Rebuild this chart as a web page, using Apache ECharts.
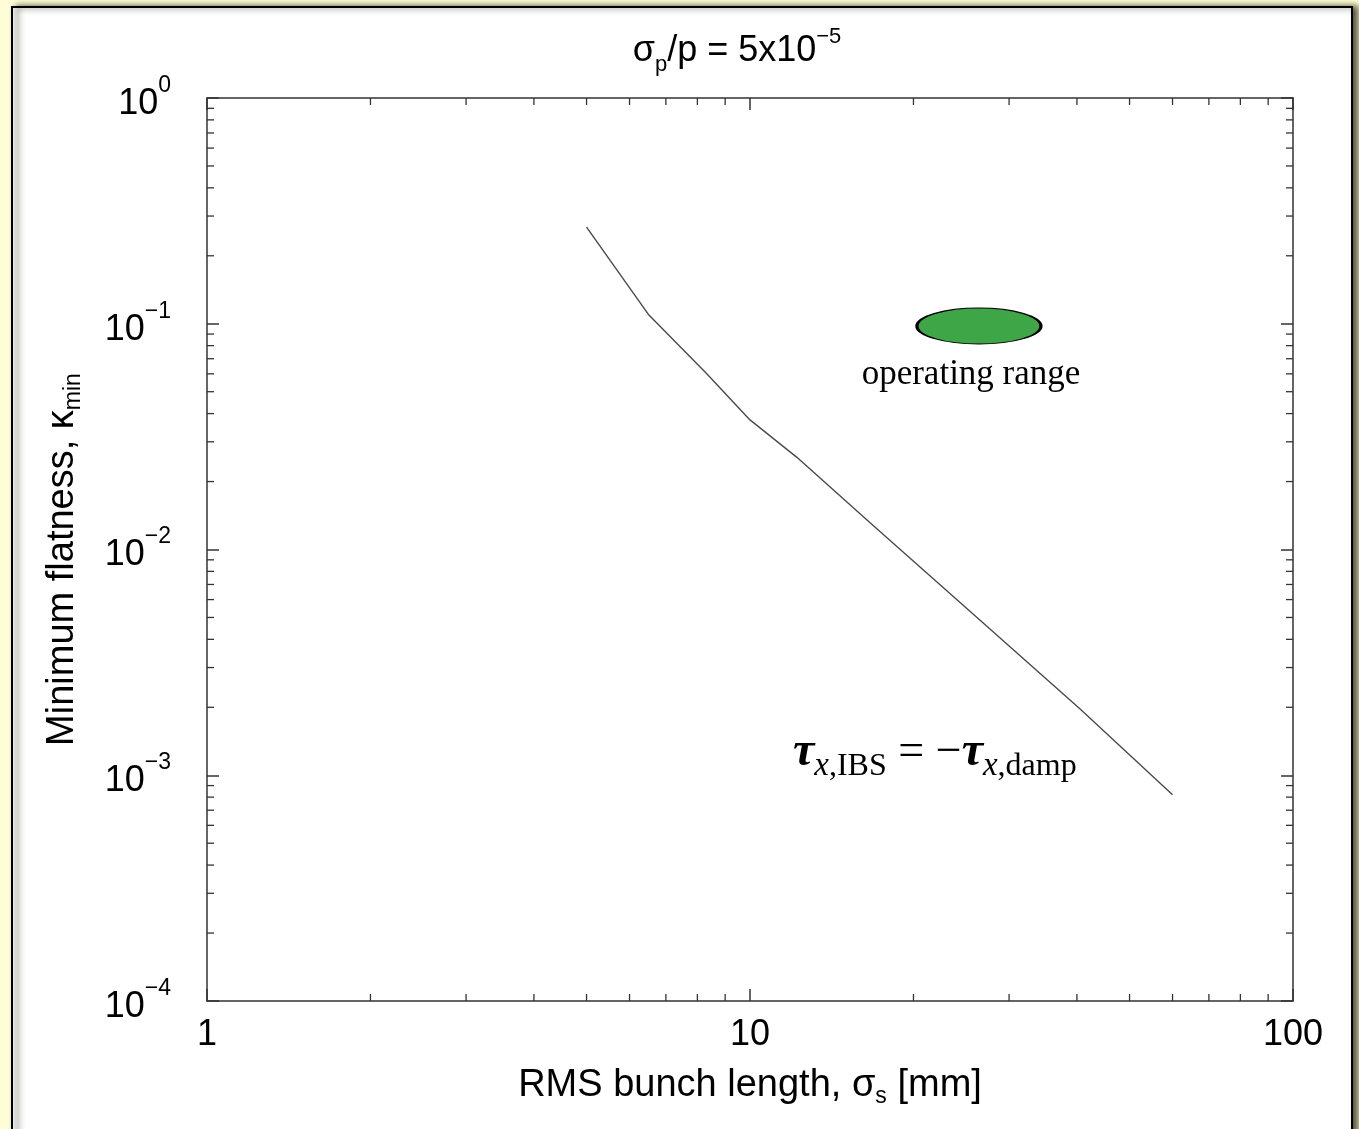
<!DOCTYPE html>
<html>
<head>
<meta charset="utf-8">
<script src="https://cdn.jsdelivr.net/npm/echarts@6/dist/echarts.min.js"></script>
<style>
html,body{margin:0;padding:0;background:#FFFDD6;}
#chart{width:1359px;height:1129px;}
</style>
</head>
<body>
<div id="chart"></div>
<script>
// ---- data ----
const bunchLength = [5.0, 6.5, 8.3, 10, 12.2, 16.6, 26.5, 40.5, 60];          // sigma_s [mm]
const kappaMin    = [0.268, 0.11, 0.0605, 0.0375, 0.0256, 0.0132, 0.00487, 0.00197, 0.00082];
const operatingRange = [[26.4, 0.0977]];
const xMinorTicks = [2,3,4,5,6,7,8,9,20,30,40,50,60,70,80,90];
const yMinorTicks = [];
[1e-4,1e-3,1e-2,1e-1].forEach(d => { for (let k = 2; k <= 9; k++) yMinorTicks.push(+(d*k).toPrecision(3)); });
const xRange = [1, 100];
const yRange = [1e-4, 1];

const AX = '#333';
const sans = '"Liberation Sans", Arial, Helvetica, sans-serif';
const serif = '"Liberation Serif", "Times New Roman", serif';

function supLabel(v) {
  const e = Math.round(Math.log10(v));
  return '{b|10}{s|' + (e === 0 ? '0' : '\u2212' + (-e)) + '}';
}

const chart = echarts.init(document.getElementById('chart'), null, {renderer: 'canvas'});

const commonAxis = {
  type: 'log', logBase: 10,
  axisLine: {show: true, lineStyle: {color: AX, width: 1.5}},
  axisTick: {show: true, inside: true, length: 12, lineStyle: {color: AX, width: 1.5}},
  splitLine: {show: false},
  minorTick: {show: false},
  minorSplitLine: {show: false}
};

chart.setOption({
  backgroundColor: '#FFFDD6',
  animation: false,
  graphic: [
    {type: 'rect', z: -10, shape: {x: 12, y: 7, width: 1340, height: 1140},
     style: {fill: '#fff', stroke: '#000', lineWidth: 2, shadowBlur: 6, shadowOffsetX: 5, shadowOffsetY: 0, shadowColor: 'rgba(50,50,30,0.85)'}},
    {type: 'text', x: 737, y: 51, z: 10,
     style: {text: '{a|\u03c3}{sub|p}{a|/p = 5x10}{sup|\u22125}', align: 'center', verticalAlign: 'middle',
       rich: {
         a: {fontFamily: sans, fontSize: 36, lineHeight: 50, verticalAlign: 'middle', fill: '#000'},
         sub: {fontFamily: sans, fontSize: 22, lineHeight: 22, verticalAlign: 'bottom', fill: '#000'},
         sup: {fontFamily: sans, fontSize: 22, lineHeight: 22, verticalAlign: 'top', fill: '#000'}
       }}},
    {type: 'text', x: 793, y: 753, z: 10,
     style: {text: '{t|\u03c4}{i|x}{r|,IBS}{o| = \u2212}{t|\u03c4}{i|x}{r|,damp}', align: 'left', verticalAlign: 'middle',
       rich: {
         t: {fontFamily: serif, fontSize: 48, fontWeight: 'bold', fontStyle: 'italic', lineHeight: 60, verticalAlign: 'middle', fill: '#000'},
         o: {fontFamily: serif, fontSize: 46, lineHeight: 60, verticalAlign: 'middle', fill: '#000'},
         i: {fontFamily: serif, fontSize: 33, fontStyle: 'italic', lineHeight: 33, verticalAlign: 'bottom', fill: '#000'},
         r: {fontFamily: serif, fontSize: 32, lineHeight: 33, verticalAlign: 'bottom', fill: '#000'}
       }}},
    {type: 'text', x: 971, y: 375, z: 10,
     style: {text: 'operating range', fontFamily: serif, fontSize: 35, fill: '#000', align: 'center', verticalAlign: 'middle'}}
  ],
  grid: {left: 207, right: 66, top: 98, bottom: 128, containLabel: false},
  xAxis: [
    Object.assign({}, commonAxis, {
      position: 'bottom', min: xRange[0], max: xRange[1],
      name: '{a|RMS bunch length, \u03c3}{s|s}{a| [mm]}', nameLocation: 'middle', nameGap: 63,
      nameTextStyle: {rich: {
        a: {fontFamily: sans, fontSize: 38, lineHeight: 44, verticalAlign: 'middle', color: '#000'},
        s: {fontFamily: sans, fontSize: 23, lineHeight: 23, verticalAlign: 'bottom', color: '#000'}}},
      axisLabel: {show: true, margin: 16, fontFamily: sans, fontSize: 36, color: '#000'}
    }),
    Object.assign({}, commonAxis, {
      position: 'top', min: xRange[0], max: xRange[1], axisLabel: {show: false}
    })
  ],
  yAxis: [
    Object.assign({}, commonAxis, {
      position: 'left', min: yRange[0], max: yRange[1],
      name: '{a|Minimum flatness, \u03ba}{s|min}', nameLocation: 'middle', nameGap: 122, nameRotate: 90,
      nameTextStyle: {padding: [0, 20, 0, 0], rich: {
        a: {fontFamily: sans, fontSize: 38, lineHeight: 44, verticalAlign: 'middle', color: '#000'},
        s: {fontFamily: sans, fontSize: 23, lineHeight: 23, verticalAlign: 'bottom', color: '#000'}}},
      axisLabel: {show: true, margin: 36, formatter: supLabel,
        rich: {
          b: {fontFamily: sans, fontSize: 36, lineHeight: 48, verticalAlign: 'bottom', color: '#000'},
          s: {fontFamily: sans, fontSize: 23, lineHeight: 23, verticalAlign: 'top', color: '#000'}
        }}
    }),
    Object.assign({}, commonAxis, {
      position: 'right', min: yRange[0], max: yRange[1], axisLabel: {show: false}
    })
  ],
  series: [
    {
      type: 'line', data: bunchLength.map((x, i) => [x, kappaMin[i]]),
      showSymbol: false, symbol: 'none', smooth: false,
      lineStyle: {color: '#4a4a4a', width: 1.4}, silent: true
    },
    {
      type: 'scatter', data: operatingRange, symbol: 'circle', symbolSize: [124, 36],
      itemStyle: {color: '#3fa648', borderColor: '#000', borderWidth: 1.8, opacity: 1}, silent: true
    },
    {
      type: 'custom', silent: true, clip: false,
      data: xMinorTicks.map(v => [v, yRange[0]]),
      renderItem: function (params, api) {
        const v = api.value(0);
        const b = api.coord([v, yRange[0]]);
        const t = api.coord([v, yRange[1]]);
        return {type: 'group', children: [
          {type: 'line', shape: {x1: b[0], y1: b[1], x2: b[0], y2: b[1] - 7}, style: {stroke: AX, lineWidth: 1.3}},
          {type: 'line', shape: {x1: t[0], y1: t[1], x2: t[0], y2: t[1] + 7}, style: {stroke: AX, lineWidth: 1.3}}
        ]};
      }
    },
    {
      type: 'custom', silent: true, clip: false,
      data: yMinorTicks.map(v => [xRange[0], v]),
      renderItem: function (params, api) {
        const v = api.value(1);
        const l = api.coord([xRange[0], v]);
        const r = api.coord([xRange[1], v]);
        return {type: 'group', children: [
          {type: 'line', shape: {x1: l[0], y1: l[1], x2: l[0] + 7, y2: l[1]}, style: {stroke: AX, lineWidth: 1.3}},
          {type: 'line', shape: {x1: r[0], y1: r[1], x2: r[0] - 7, y2: r[1]}, style: {stroke: AX, lineWidth: 1.3}}
        ]};
      }
    }
  ]
});
</script>
</body>
</html>
